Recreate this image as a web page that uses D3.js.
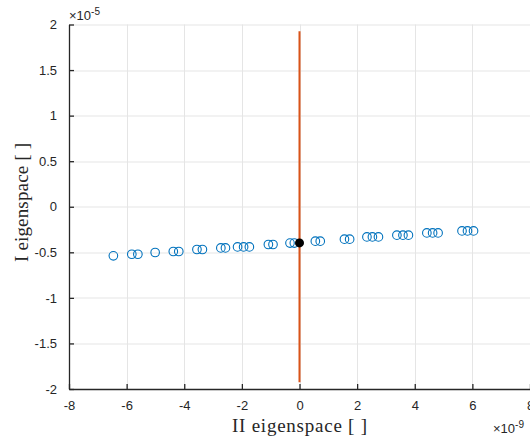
<!DOCTYPE html>
<html>
<head>
<meta charset="utf-8">
<script src="https://cdn.jsdelivr.net/npm/d3@7"></script>
<style>
  body { margin: 0; background: #fff; }
  .tick text { font-family: "Liberation Sans", Arial, sans-serif; font-size: 13px; fill: #262626; }
</style>
</head>
<body>
<div id="chart"></div>
<script>
// data (x in units of 1e-9, y in units of 1e-5)
var ptsX = [-6.46, -5.82, -5.61, -5.01, -4.38, -4.19, -3.56, -3.37, -2.73, -2.57,
  -2.15, -1.94, -1.74, -1.08, -0.92, -0.33, -0.18,
  0.55, 0.72, 1.56, 1.74, 2.34, 2.53, 2.74, 3.38, 3.59, 3.78, 4.42, 4.62, 4.81, 5.64, 5.83, 6.04]
var ptsY = [-0.539, -0.521, -0.521, -0.502, -0.491, -0.491, -0.469, -0.469, -0.452, -0.452,
  -0.441, -0.441, -0.441, -0.414, -0.414, -0.399, -0.399,
  -0.378, -0.378, -0.356, -0.356, -0.331, -0.331, -0.331, -0.312, -0.312, -0.312, -0.287, -0.287, -0.287, -0.265, -0.265, -0.265]
var centerPt = [0, -0.397]
var vLine = [[0, 1.925], [0, -1.925]]
var xTicks = [-8, -6, -4, -2, 0, 2, 4, 6, 8]
var yTicks = [-2, -1.5, -1, -0.5, 0, 0.5, 1, 1.5, 2]

const W = 530, H = 437
const margin = { top: 24.5, right: 0, bottom: 48, left: 69 },
  width = W - margin.left - margin.right,
  height = H - margin.top - margin.bottom

const svgRoot = d3.select("#chart").append("svg")
  .attr("width", W)
  .attr("height", H)
const svg = svgRoot.append("g")
  .attr("transform", `translate(${margin.left}, ${margin.top})`)

const x = d3.scaleLinear().domain([-8, 8]).range([0, width])
const y = d3.scaleLinear().domain([-2, 2]).range([height, 0])

// grid
svg.append("g").selectAll("line").data(xTicks.slice(1)).enter().append("line")
  .attr("x1", d => Math.round(x(d)) + 0.5).attr("x2", d => Math.round(x(d)) + 0.5)
  .attr("y1", 0).attr("y2", height)
  .attr("stroke", "#e5e5e5").attr("stroke-width", 1)
svg.append("g").selectAll("line").data(yTicks.slice(1)).enter().append("line")
  .attr("y1", d => Math.round(y(d)) + 0.5).attr("y2", d => Math.round(y(d)) + 0.5)
  .attr("x1", 0).attr("x2", width)
  .attr("stroke", "#e5e5e5").attr("stroke-width", 1)

// axes
const xAxis = d3.axisBottom(x).tickValues(xTicks).tickSizeInner(-5).tickSizeOuter(0)
  .tickPadding(12).tickFormat(d => String(d))
const gx = svg.append("g").attr("transform", `translate(0, ${height})`).call(xAxis)
const yAxis = d3.axisLeft(y).tickValues(yTicks).tickSizeInner(-5).tickSizeOuter(0)
  .tickPadding(12).tickFormat(d => String(d))
const gy = svg.append("g").call(yAxis)
svg.selectAll(".domain").attr("stroke", "#262626").attr("stroke-width", 1.3)
svg.selectAll(".tick line").attr("stroke", "#262626").attr("stroke-width", 1.3)

// vertical red line
svg.append("path")
  .datum(vLine)
  .attr("fill", "none")
  .attr("stroke", "#D95319")
  .attr("stroke-width", 2)
  .attr("d", d3.line().x(d => x(d[0])).y(d => y(d[1])))

// circles
svg.selectAll("circle.pt")
  .data(ptsX.map((v, i) => [v, ptsY[i]]))
  .enter().append("circle")
  .attr("class", "pt")
  .attr("cx", d => x(d[0]))
  .attr("cy", d => y(d[1]))
  .attr("r", 4.3)
  .attr("fill", "none")
  .attr("stroke", "#0072BD")
  .attr("stroke-width", 1.1)

// black center point
svg.append("circle")
  .attr("cx", x(centerPt[0]))
  .attr("cy", y(centerPt[1]))
  .attr("r", 4.5)
  .attr("fill", "#000")

// exponent labels
const expY = svgRoot.append("text")
  .attr("x", 69).attr("y", 20)
  .style("font-family", "Liberation Sans, Arial, sans-serif")
  .style("font-size", "13px").attr("fill", "#262626")
expY.append("tspan").text("\u00d710")
expY.append("tspan").attr("dy", -5).style("font-size", "10px").text("-5")

const expX = svgRoot.append("text")
  .attr("x", 493).attr("y", 433)
  .style("font-family", "Liberation Sans, Arial, sans-serif")
  .style("font-size", "13px").attr("fill", "#262626")
expX.append("tspan").text("\u00d710")
expX.append("tspan").attr("dy", -5).style("font-size", "10px").text("-9")

// axis titles
svgRoot.append("text")
  .attr("x", 232)
  .attr("y", 431.5)
  .attr("textLength", 135)
  .attr("lengthAdjust", "spacing")
  .style("font-family", "Liberation Serif, Times New Roman, serif")
  .style("font-size", "19px")
  .attr("fill", "#262626")
  .text("II eigenspace [ ]")

svgRoot.append("text")
  .attr("transform", `translate(28, 262) rotate(-90)`)
  .attr("textLength", 119)
  .attr("lengthAdjust", "spacing")
  .style("font-family", "Liberation Serif, Times New Roman, serif")
  .style("font-size", "19px")
  .attr("fill", "#262626")
  .text("I eigenspace [ ]")
</script>
</body>
</html>
